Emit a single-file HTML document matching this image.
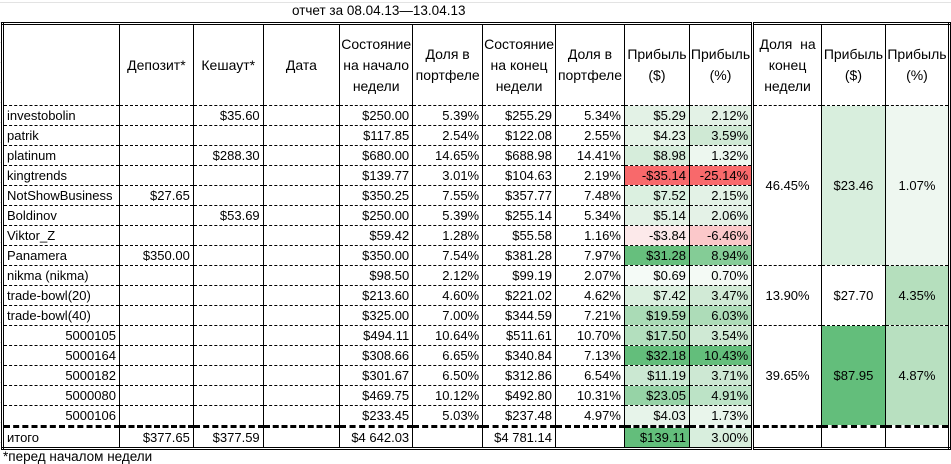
<!DOCTYPE html>
<html><head><meta charset="utf-8">
<style>
html,body{margin:0;padding:0;background:#fff;}
body{width:951px;height:459px;overflow:hidden;position:relative;font-family:"Liberation Sans","Noto Sans CJK JP",sans-serif;font-size:13px;color:#000;
background-image:linear-gradient(#e3e3e3 1px,transparent 1px);background-size:100% 20px;background-position:0 2px;}
.title{position:absolute;left:292px;top:3px;font-size:13.5px;}
.foot{position:absolute;left:3px;top:449px;font-size:13.5px;}
table{position:absolute;left:1px;top:22px;border-collapse:collapse;table-layout:fixed;border:3px double #000;background:#fff;}
td{border-left:1px solid #000;border-right:1px solid #000;border-bottom:1px dashed #000;padding:0 3px;height:19px;line-height:19px;text-align:right;white-space:nowrap;overflow:hidden;}
tr.h td{height:80px;text-align:center;line-height:21px;white-space:normal;border-bottom:1px dashed #000;font-size:14px;padding:0 1px;}
td.l{text-align:left;}
td.c{text-align:center;}
td.dl{border-left:3px double #000;}
tr.last td{border-bottom:3px dashed #000;}
tr.tot td{border-bottom:none;}
</style></head><body>
<div class="title">отчет за 08.04.13—13.04.13</div>
<table>
<colgroup><col style="width:117px"><col style="width:74px"><col style="width:70px"><col style="width:77px"><col style="width:73px"><col style="width:70px"><col style="width:72px"><col style="width:69px"><col style="width:65px"><col style="width:63px"><col style="width:69px"><col style="width:64px"><col style="width:64px"></colgroup>
<tr class="h"><td></td><td>Депозит*</td><td>Кешаут*</td><td>Дата</td><td>Состояние на начало недели</td><td>Доля в портфеле</td><td>Состояние на конец недели</td><td>Доля в портфеле</td><td>Прибыль ($)</td><td>Прибыль (%)</td><td class="dl">Доля&nbsp; на конец недели</td><td>Прибыль ($)</td><td>Прибыль (%)</td></tr>
<tr><td class="l">investobolin</td><td></td><td>$35.60</td><td></td><td>$250.00</td><td>5.39%</td><td>$255.29</td><td>5.34%</td><td style="background:#e3f2e6">$5.29</td><td style="background:#e3f2e6">2.12%</td><td class="dl c" rowspan="8">46.45%</td><td class="c" rowspan="8" style="background:#d8eedd">$23.46</td><td class="c" rowspan="8" style="background:#eef7f0">1.07%</td></tr>
<tr><td class="l">patrik</td><td></td><td></td><td></td><td>$117.85</td><td>2.54%</td><td>$122.08</td><td>2.55%</td><td style="background:#e6f4e8">$4.23</td><td style="background:#cfe9d4">3.59%</td></tr>
<tr><td class="l">platinum</td><td></td><td>$288.30</td><td></td><td>$680.00</td><td>14.65%</td><td>$688.98</td><td>14.41%</td><td style="background:#d6eddb">$8.98</td><td style="background:#edf7ef">1.32%</td></tr>
<tr><td class="l">kingtrends</td><td></td><td></td><td></td><td>$139.77</td><td>3.01%</td><td>$104.63</td><td>2.19%</td><td style="background:#f8696b">-$35.14</td><td style="background:#f8696b">-25.14%</td></tr>
<tr><td class="l">NotShowBusiness</td><td>$27.65</td><td></td><td></td><td>$350.25</td><td>7.55%</td><td>$357.77</td><td>7.48%</td><td style="background:#dbf0e0">$7.52</td><td style="background:#e3f2e6">2.15%</td></tr>
<tr><td class="l">Boldinov</td><td></td><td>$53.69</td><td></td><td>$250.00</td><td>5.39%</td><td>$255.14</td><td>5.34%</td><td style="background:#e3f2e6">$5.14</td><td style="background:#e4f2e7">2.06%</td></tr>
<tr><td class="l">Viktor_Z</td><td></td><td></td><td></td><td>$59.42</td><td>1.28%</td><td>$55.58</td><td>1.16%</td><td style="background:#fce9ea">-$3.84</td><td style="background:#fbc8ca">-6.46%</td></tr>
<tr><td class="l">Panamera</td><td>$350.00</td><td></td><td></td><td>$350.00</td><td>7.54%</td><td>$381.28</td><td>7.97%</td><td style="background:#66bf7d">$31.28</td><td style="background:#84cc96">8.94%</td></tr>
<tr><td class="l">nikma (nikma)</td><td></td><td></td><td></td><td>$98.50</td><td>2.12%</td><td>$99.19</td><td>2.07%</td><td style="background:#f5fbf7">$0.69</td><td style="background:#f4faf5">0.70%</td><td class="dl c" rowspan="3">13.90%</td><td class="c" rowspan="3">$27.70</td><td class="c" rowspan="3" style="background:#b5dfbd">4.35%</td></tr>
<tr><td class="l">trade-bowl(20)</td><td></td><td></td><td></td><td>$213.60</td><td>4.60%</td><td>$221.02</td><td>4.62%</td><td style="background:#dcf0e0">$7.42</td><td style="background:#d1ead6">3.47%</td></tr>
<tr><td class="l">trade-bowl(40)</td><td></td><td></td><td></td><td>$325.00</td><td>7.00%</td><td>$344.59</td><td>7.21%</td><td style="background:#aadbb6">$19.59</td><td style="background:#addcb8">6.03%</td></tr>
<tr><td>5000105</td><td></td><td></td><td></td><td>$494.11</td><td>10.64%</td><td>$511.61</td><td>10.70%</td><td style="background:#b3dfbe">$17.50</td><td style="background:#cfe9d4">3.54%</td><td class="dl c" rowspan="5" style="border-bottom:3px dashed #000">39.65%</td><td class="c" rowspan="5" style="background:#63be7b;border-bottom:3px dashed #000">$87.95</td><td class="c" rowspan="5" style="background:#b8e0c0;border-bottom:3px dashed #000">4.87%</td></tr>
<tr><td>5000164</td><td></td><td></td><td></td><td>$308.66</td><td>6.65%</td><td>$340.84</td><td>7.13%</td><td style="background:#63be7b">$32.18</td><td style="background:#63be7b">10.43%</td></tr>
<tr><td>5000182</td><td></td><td></td><td></td><td>$301.67</td><td>6.50%</td><td>$312.86</td><td>6.54%</td><td style="background:#cbe8d2">$11.19</td><td style="background:#cde8d3">3.71%</td></tr>
<tr><td>5000080</td><td></td><td></td><td></td><td>$469.75</td><td>10.12%</td><td>$492.80</td><td>10.31%</td><td style="background:#96d3a6">$23.05</td><td style="background:#bce3c6">4.91%</td></tr>
<tr class="last"><td>5000106</td><td></td><td></td><td></td><td>$233.45</td><td>5.03%</td><td>$237.48</td><td>4.97%</td><td style="background:#e7f4ea">$4.03</td><td style="background:#e9f5eb">1.73%</td></tr>
<tr class="tot"><td class="l">итого</td><td>$377.65</td><td>$377.59</td><td></td><td>$4 642.03</td><td></td><td>$4 781.14</td><td></td><td style="background:#63be7b">$139.11</td><td style="background:#d8eedd">3.00%</td><td class="dl"></td><td></td><td></td></tr>
</table>
<div class="foot">*перед началом недели</div>
</body></html>
